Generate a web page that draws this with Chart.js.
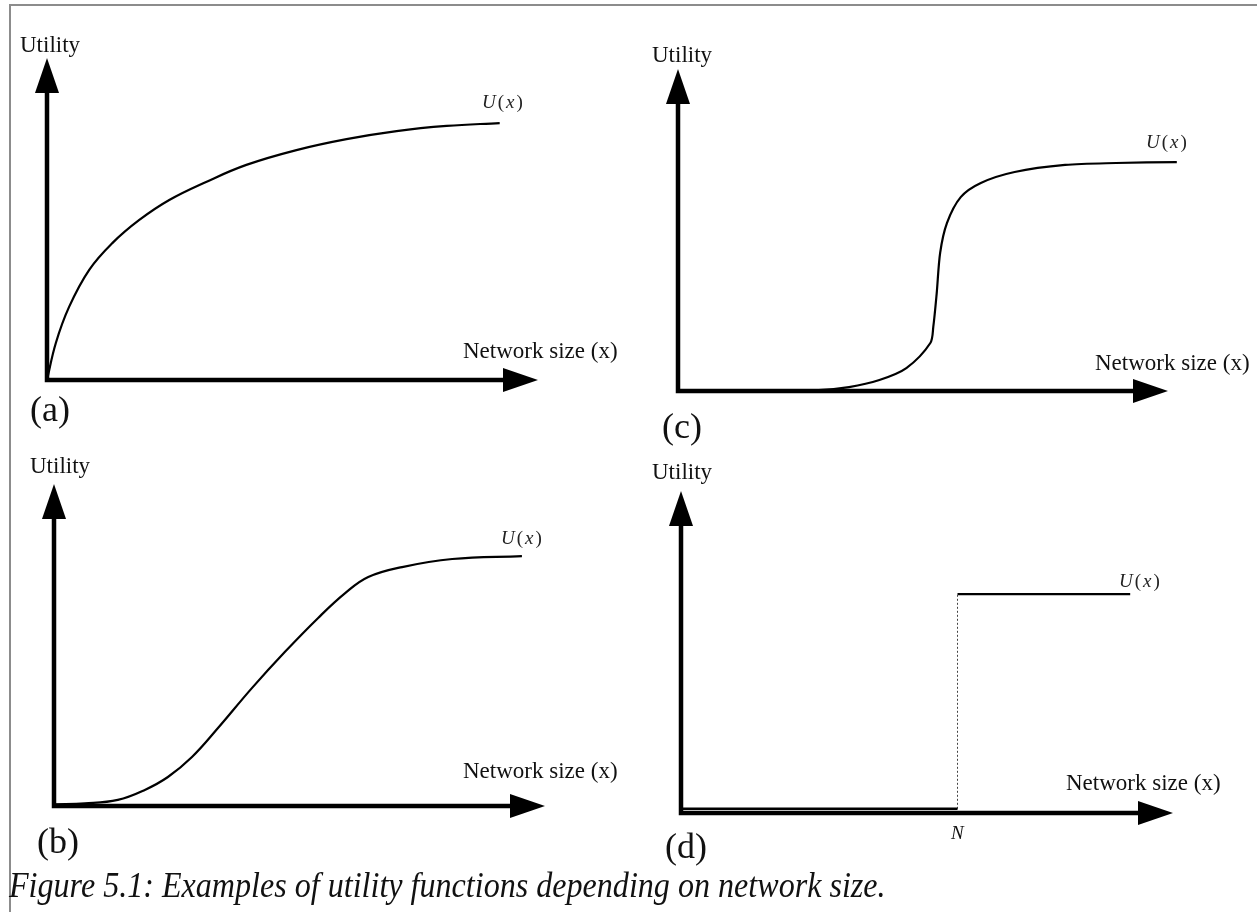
<!DOCTYPE html>
<html>
<head>
<meta charset="utf-8">
<script src="https://cdn.jsdelivr.net/npm/chart.js@4.4.0/dist/chart.umd.min.js"></script>
<style>
  html, body { margin: 0; padding: 0; background: #fff; }
  body { width: 1257px; height: 912px; position: relative; overflow: hidden;
         font-family: "Liberation Serif", "Times New Roman", serif; color: #111; }
  #frame { position: absolute; left: 9px; top: 4px; right: -4px; bottom: -4px;
           border-top: 2px solid #8c8c8c; border-left: 2px solid #8c8c8c; }
  canvas { position: absolute; }
  .lbl { position: absolute; line-height: 1; white-space: nowrap; }
  .ux { color: #222; }
  .ux i { margin: 0 2px; }
</style>
</head>
<body>
<div id="frame"></div>
<script>
// values, in axis units (0 = origin, 10 = arrow tip)
// (a) concave utility
const aX = [0, 0.18, 0.45, 0.86, 1.33, 1.88, 2.49, 3.24, 4.06, 5.08, 6.10, 7.12, 8.14, 9.22];
const aY = [0, 1.15, 2.27, 3.42, 4.25, 4.97, 5.59, 6.15, 6.68, 7.14, 7.48, 7.73, 7.89, 7.98];
// (b) smooth s-curve
const bX = [0, 0.63, 1.30, 1.85, 2.32, 2.81, 3.34, 4.03, 4.70, 5.38, 5.93, 6.40, 7.09, 8.11, 9.53];
const bY = [0.05, 0.08, 0.19, 0.50, 0.90, 1.52, 2.42, 3.66, 4.78, 5.84, 6.61, 7.11, 7.42, 7.67, 7.76];
// (c) sharp s-curve
const cX = [0, 2.87, 3.49, 4.11, 4.66, 5.15, 5.21, 5.28, 5.35, 5.49, 5.77, 6.18, 6.87, 7.90, 8.94, 10.18];
const cY = [0, 0.03, 0.12, 0.34, 0.71, 1.49, 1.99, 3.04, 4.29, 5.22, 6.02, 6.46, 6.80, 7.02, 7.08, 7.11];
// (d) step at N
const dLowX = [0, 5.62], dLowY = [0.13, 0.13];
const dJumpX = [5.62, 5.62], dJumpY = [0.13, 6.80];
const dHighX = [5.62, 9.13], dHighY = [6.80, 6.80];

const yTitle = "Utility";
const xTitle = "Network size (x)";
const caption = "Figure 5.1: Examples of utility functions depending on network size.";

const pts = (xs, ys) => xs.map((x, i) => ({ x: x, y: ys[i] }));

// draws the two thick axes with filled arrow heads
const arrowAxes = {
  id: 'arrowAxes',
  afterDatasetsDraw(chart) {
    const { ctx, scales: { x, y } } = chart;
    const ox = x.getPixelForValue(0), oy = y.getPixelForValue(0);
    const tx = x.getPixelForValue(10), ty = y.getPixelForValue(10);
    const len = 35, half = 12;
    ctx.save();
    ctx.strokeStyle = '#000';
    ctx.fillStyle = '#000';
    ctx.lineWidth = 4.5;
    ctx.lineJoin = 'miter';
    ctx.beginPath();
    ctx.moveTo(ox, ty + len - 1);
    ctx.lineTo(ox, oy);
    ctx.lineTo(tx - len + 1, oy);
    ctx.stroke();
    ctx.beginPath();
    ctx.moveTo(ox, ty);
    ctx.lineTo(ox - half, ty + len);
    ctx.lineTo(ox + half, ty + len);
    ctx.closePath();
    ctx.fill();
    ctx.beginPath();
    ctx.moveTo(tx, oy);
    ctx.lineTo(tx - len, oy - half);
    ctx.lineTo(tx - len, oy + half);
    ctx.closePath();
    ctx.fill();
    ctx.restore();
  }
};

function curve(data, extra) {
  return Object.assign({
    data: data,
    borderColor: '#000',
    borderWidth: 2.2,
    pointRadius: 0,
    tension: 0.4,
    clip: false
  }, extra || {});
}

function makePanel(ox, oy, tx, ty, datasets) {
  const pad = 30;
  const cv = document.createElement('canvas');
  cv.width = tx - ox + 2 * pad;
  cv.height = oy - ty + 2 * pad;
  cv.style.left = (ox - pad) + 'px';
  cv.style.top = (ty - pad) + 'px';
  document.body.appendChild(cv);
  new Chart(cv.getContext('2d'), {
    type: 'line',
    data: { datasets: datasets },
    options: {
      responsive: false,
      animation: false,
      events: [],
      layout: { padding: pad },
      scales: {
        x: { type: 'linear', min: 0, max: 10, display: false },
        y: { type: 'linear', min: 0, max: 10, display: false }
      },
      plugins: { legend: { display: false }, tooltip: { enabled: false } }
    },
    plugins: [arrowAxes]
  });
}

function label(html, x, base, size, cls) {
  const el = document.createElement('div');
  el.className = 'lbl' + (cls ? ' ' + cls : '');
  el.innerHTML = html;
  el.style.fontSize = size + 'px';
  el.style.left = x + 'px';
  el.style.top = (base - 0.8375 * size) + 'px';
  document.body.appendChild(el);
  return el;
}

const uLabel = '<i>U</i>(<i>x</i>)';

makePanel(47, 380, 538, 58, [curve(pts(aX, aY))]);
makePanel(54, 806, 545, 484, [curve(pts(bX, bY))]);
makePanel(678, 391, 1168, 69, [curve(pts(cX, cY), { tension: 0.3 })]);
makePanel(681, 813, 1173, 491, [
  curve(pts(dLowX, dLowY), { tension: 0, borderWidth: 2.4 }),
  curve(pts(dJumpX, dJumpY), { tension: 0, borderWidth: 1, borderColor: '#444', borderDash: [2, 2] }),
  curve(pts(dHighX, dHighY), { tension: 0, borderWidth: 2.2 })
]);

// (a)
label(yTitle, 20, 52, 23);
label(xTitle, 463, 358, 23);
label(uLabel, 480, 108, 19, 'ux');
label('(a)', 30, 421, 36);
// (c)
label(yTitle, 652, 62, 23);
label(xTitle, 1095, 370, 23);
label(uLabel, 1144, 148, 19, 'ux');
label('(c)', 662, 438, 36);
// (b)
label(yTitle, 30, 473, 23);
label(xTitle, 463, 778, 23);
label(uLabel, 499, 544, 19, 'ux');
label('(b)', 37, 853, 36);
// (d)
label(yTitle, 652, 479, 23);
label(xTitle, 1066, 790, 23);
label(uLabel, 1117, 587, 19, 'ux');
label('<i>N</i>', 951, 839, 19);
label('(d)', 665, 858, 36);

// caption, narrow italic
const cap = label(caption, 9, 897, 36);
cap.style.fontStyle = 'italic';
cap.style.transformOrigin = '0 0';
cap.style.transform = 'scaleX(' + (877 / cap.offsetWidth) + ')';
</script>
</body>
</html>
